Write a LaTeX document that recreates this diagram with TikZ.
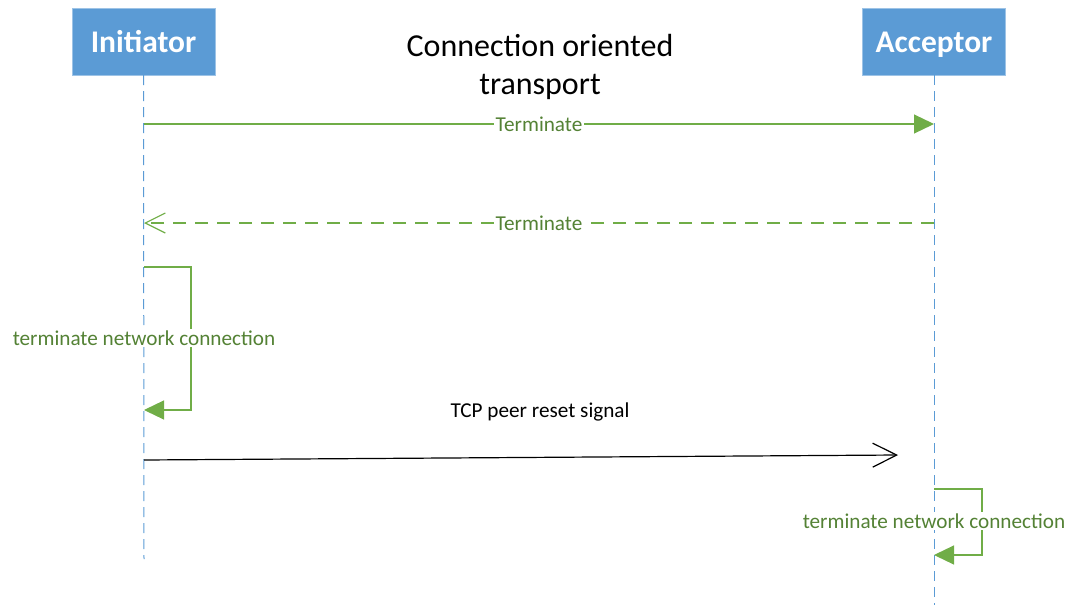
\documentclass[tikz,border=0pt]{standalone}
\usepackage{fontspec}
\setmainfont{Carlito}
\usepackage{xcolor}
\usetikzlibrary{arrows.meta}

\definecolor{boxblue}{HTML}{5B9BD5}
\definecolor{msggreen}{HTML}{70AD47}
\definecolor{txtgreen}{HTML}{548235}

\begin{document}
\begin{tikzpicture}[x=1pt, y=-1pt,
    actor/.style={fill=boxblue, draw=boxblue!60, text=white, inner sep=0pt,
        minimum width=143pt, minimum height=67pt, text height=25pt, text depth=4pt,
        font=\fontsize{31.5}{36}\selectfont\bfseries},
    lifeline/.style={draw=boxblue, line width=1pt, dash pattern=on 10pt off 6pt},
    msg/.style={draw=msggreen, line width=1.2pt},
    msglabel/.style={fill=white, text=txtgreen, inner sep=1.5pt,
        font=\fontsize{21.2}{25}\selectfont},
    filltip/.style={-{Triangle[length=20pt, width=19pt, fill=msggreen]}},
    opentip/.style={-{Straight Barb[length=20pt, width=20pt]}}]
                \useasboundingbox (0,0) rectangle (1069,605);

                \node[actor] (I) at (143.5,41.5) {Initiator};
                \node[actor] (A) at (934,41.5) {Acceptor};
                \node[align=center, font=\fontsize{32}{38}\selectfont] (title) at (540,67) {Connection oriented\\transport};

                \coordinate (Iend) at (144,559);
                \coordinate (Aend) at (934,605);
                \draw[lifeline] (I.south) -- (Iend);
                \draw[lifeline] (A.south) -- (Aend);

                \coordinate (i1) at (144,124);
                \coordinate (a1) at (934,124);
                \coordinate (i2) at (144,223);
                \coordinate (a2) at (934,223);
                \coordinate (i3) at (144,267);
                \coordinate (i4) at (144,410);
                \coordinate (i5) at (144,460);
                \coordinate (tip) at (898,455);
                \coordinate (a6) at (934,489);
                \coordinate (a7) at (934,555);

                \draw[msg, filltip] (i1) -- (a1) node[midway, msglabel] (m1) {Terminate};
                \draw[msg, opentip, dash pattern=on 13pt off 9pt] (a2) -- (i2) node[midway, msglabel] (m2) {Terminate};

                \draw[msg, filltip] (i3) -- ++(47,0) |- (i4);
                \node[msglabel] (loopI) at (144,338) {terminate network connection};

                \draw[line width=1.2pt, -{Straight Barb[length=24pt, width=24pt]}] (i5) -- (tip);
                \node[font=\fontsize{21.2}{25}\selectfont] (tcp) at (540,412) {TCP peer reset signal};

                \draw[msg, filltip] (a6) -- ++(48,0) |- (a7);
                \node[msglabel] (loopA) at (934,521) {terminate network connection};
            \end{tikzpicture}
\end{document}
